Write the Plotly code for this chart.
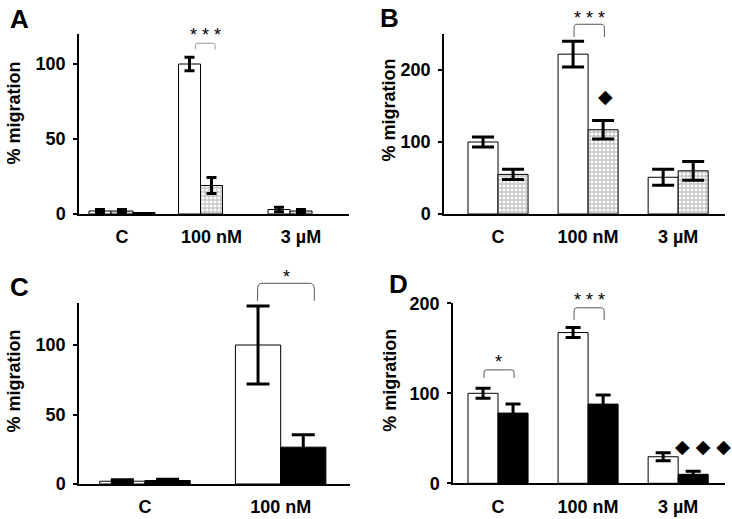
import plotly.graph_objects as go

# ---------------- data ----------------
cats3 = ["C", "100 nM", "3 µM"]
cats2 = ["C", "100 nM"]

a_open = [2, 100, 3]
a_open_err = [1, 4.5, 1.5]
a_dot = [2, 19, 2]
a_dot_err = [1, 5.3, 1]
a_black = [1, None, None]

b_open = [100, 222, 51]
b_open_err = [7, 18, 11]
b_dot = [55, 117, 60]
b_dot_err = [7, 13, 13]

c_open = [2, 100]
c_open_err = [1, 28]
c_black = [2.5, 26.5]
c_black_err = [1, 9]

d_open = [100, 167.5, 29.5]
d_open_err = [5.5, 5.5, 4.5]
d_black = [78, 88, 10]
d_black_err = [10, 10, 3.5]

ticks_a = [0, 50, 100]
ticks_b = [0, 100, 200]
ticks_c = [0, 50, 100]
ticks_d = [0, 100, 200]

# ---------------- layout geometry ----------------
W, H = 732, 519
FONT = "Liberation Sans, Arial, sans-serif"


def px_x(p):
    return p / W


def px_y(p):
    return 1 - p / H


panels = {
    "A": dict(xa="x", ya="y", xdom=[px_x(79), px_x(349)], ydom=[px_y(214), px_y(34)],
              xr=[-0.48, 2.536], yr=[0, 120], ticks=ticks_a, cap=5),
    "B": dict(xa="x2", ya="y2", xdom=[px_x(444), px_x(725)], ydom=[px_y(214), px_y(34)],
              xr=[-0.6, 2.52], yr=[0, 250], ticks=ticks_b, cap=11),
    "C": dict(xa="x3", ya="y3", xdom=[px_x(79), px_x(350)], ydom=[px_y(484), px_y(303.3)],
              xr=[-0.486, 1.511], yr=[0, 130], ticks=ticks_c, cap=11.5),
    "D": dict(xa="x4", ya="y4", xdom=[px_x(453), px_x(725)], ydom=[px_y(483.3), px_y(303.3)],
              xr=[-0.5, 2.52], yr=[0, 200], ticks=ticks_d, cap=7.5),
}


def to_paper(panel, v):
    p = panels[panel]
    r0, r1 = p["yr"]
    d0, d1 = p["ydom"]
    return d0 + (v - r0) / (r1 - r0) * (d1 - d0)


def err(arr, w):
    return dict(type="data", array=arr, visible=True, color="black", thickness=3, width=w)


open_style = dict(color="white", line=dict(color="black", width=1))
dot_style = dict(color="white", line=dict(color="black", width=1),
                 pattern=dict(shape="+", fgcolor="#8c8c8c", bgcolor="white", size=4, solidity=0.55))
black_style = dict(color="black", line=dict(color="black", width=1))

fig = go.Figure()

# Panel A (three bar slots per category)
pa = panels["A"]
wA = 0.2457
fig.add_bar(x=cats3, y=a_open, marker=open_style, error_y=err(a_open_err, pa["cap"]),
            width=wA, offset=-1.5 * wA, xaxis="x", yaxis="y", showlegend=False)
fig.add_bar(x=cats3, y=a_dot, marker=dot_style, error_y=err(a_dot_err, pa["cap"]),
            width=wA, offset=-0.5 * wA, xaxis="x", yaxis="y", showlegend=False)
fig.add_bar(x=cats3, y=a_black, marker=black_style,
            width=wA, offset=0.5 * wA, xaxis="x", yaxis="y", showlegend=False)

# Panel B
pb = panels["B"]
fig.add_bar(x=cats3, y=b_open, marker=open_style, error_y=err(b_open_err, pb["cap"]),
            xaxis="x2", yaxis="y2", showlegend=False)
fig.add_bar(x=cats3, y=b_dot, marker=dot_style, error_y=err(b_dot_err, pb["cap"]),
            xaxis="x2", yaxis="y2", showlegend=False)

# Panel C
pc = panels["C"]
fig.add_bar(x=cats2, y=c_open, marker=open_style, error_y=err(c_open_err, pc["cap"]),
            xaxis="x3", yaxis="y3", showlegend=False)
fig.add_bar(x=cats2, y=c_black, marker=black_style, error_y=err(c_black_err, pc["cap"]),
            xaxis="x3", yaxis="y3", showlegend=False)

# Panel D
pd_ = panels["D"]
fig.add_bar(x=cats3, y=d_open, marker=open_style, error_y=err(d_open_err, pd_["cap"]),
            xaxis="x4", yaxis="y4", showlegend=False)
fig.add_bar(x=cats3, y=d_black, marker=black_style, error_y=err(d_black_err, pd_["cap"]),
            xaxis="x4", yaxis="y4", showlegend=False)

tickfont = dict(family=FONT, size=18, color="black", weight="bold")
layout = dict(
    width=W, height=H, margin=dict(l=0, r=0, t=0, b=0, pad=0, autoexpand=False),
    paper_bgcolor="white", plot_bgcolor="white",
    barmode="group", bargap=1 / 3, bargroupgap=0,
    showlegend=False,
)
for name, p in panels.items():
    xk = "xaxis" + p["xa"][1:]
    yk = "yaxis" + p["ya"][1:]
    layout[xk] = dict(domain=p["xdom"], range=p["xr"], anchor=p["ya"], type="category",
                      showline=True, linecolor="black", linewidth=1.5, ticks="",
                      showgrid=False, zeroline=False, tickfont=tickfont,
                      ticklabelstandoff=6, automargin=False)
    layout[yk] = dict(domain=p["ydom"], range=p["yr"], anchor=p["xa"],
                      showline=True, linecolor="black", linewidth=1.5,
                      ticks="outside", ticklen=4, tickwidth=1.5, tickcolor="black",
                      tickvals=p["ticks"], showgrid=False, zeroline=False,
                      tickfont=tickfont, ticklabelstandoff=4, automargin=False)
fig.update_layout(**layout)

# significance brackets: (panel, category index, left offset, right offset, top, leg end, color)
brackets = [
    ("A", 1, -0.179, 0.041, 113.8, 109.8, "#9a9a9a"),
    ("B", 1, -0.156, 0.181, 263.5, 246, "#555555"),
    ("C", 1, -0.17, 0.248, 144.4, 131.8, "#555555"),
    ("D", 0, -0.156, 0.178, 126, 117, "#555555"),
    ("D", 1, -0.156, 0.178, 195, 181.5, "#555555"),
]
for pn, ci, o0, o1, top, leg, col in brackets:
    p = panels[pn]
    x0, x1 = ci + o0, ci + o1
    yt, yl = to_paper(pn, top), to_paper(pn, leg)
    r = (x1 - x0) * 0.08
    ry = (yt - yl) * 0.35
    path = (f"M {x0},{yl} L {x0},{yt - ry} Q {x0},{yt} {x0 + r},{yt} "
            f"L {x1 - r},{yt} Q {x1},{yt} {x1},{yt - ry} L {x1},{yl}")
    fig.add_shape(type="path", path=path, xref=p["xa"], yref="paper",
                  line=dict(color=col, width=1))

# star labels: (panel, x in category units, y value, text)
stars = [
    ("A", 0.93, 119.4, "* * *"),
    ("B", 1.01, 272, "* * *"),
    ("C", 1.044, 148.7, "*"),
    ("D", 0.01, 135.2, "*"),
    ("D", 1.02, 203.4, "* * *"),
]
for pn, xv, yv, t in stars:
    p = panels[pn]
    fig.add_annotation(x=xv, y=to_paper(pn, yv), xref=p["xa"], yref="paper", text=t,
                       showarrow=False, font=dict(family=FONT, size=18, color="black"),
                       xanchor="center", yanchor="middle")

# diamond markers
diamonds = [("B", 1.19, 164, "◆"), ("D", 2.278, 41, "◆ ◆ ◆")]
for pn, xv, yv, t in diamonds:
    p = panels[pn]
    fig.add_annotation(x=xv, y=yv, xref=p["xa"], yref=p["ya"], text=t, showarrow=False,
                       font=dict(family="DejaVu Sans", size=19, color="black"),
                       xanchor="center", yanchor="middle")

# panel letters and y-axis titles
letters = [("A", 19, 19), ("B", 389, 18.5), ("C", 19, 286.7), ("D", 398, 284)]
for t, xp, yp in letters:
    fig.add_annotation(x=px_x(xp), y=px_y(yp), xref="paper", yref="paper", text=t,
                       showarrow=False, xanchor="center", yanchor="middle",
                       font=dict(family=FONT, size=26, color="black", weight="bold"))

ytitles = [(13, 113.5), (388.5, 110), (13, 381.5), (390, 380.7)]
for xp, yp in ytitles:
    fig.add_annotation(x=px_x(xp), y=px_y(yp), xref="paper", yref="paper", text="% migration",
                       textangle=-90, showarrow=False, xanchor="center", yanchor="middle",
                       font=dict(family=FONT, size=18, color="black", weight="bold"))

fig.write_html("out.html", config={"displayModeBar": False},
               post_script="document.body.style.margin='0';document.body.style.padding='0';")
